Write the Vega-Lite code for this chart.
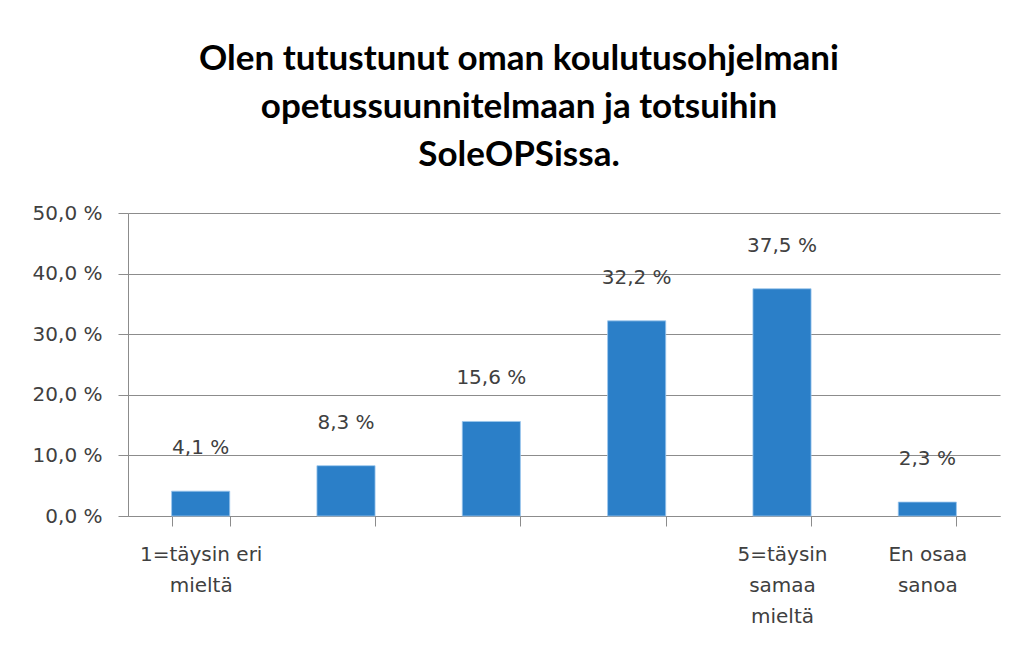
{
  "$schema": "https://vega.github.io/schema/vega-lite/v6.json",
  "width": 872,
  "height": 303,
  "autosize": "none",
  "padding": {"left": 128, "top": 213, "right": 22, "bottom": 132},
  "background": "white",
  "title": {
    "text": ["Olen tutustunut oman koulutusohjelmani", "opetussuunnitelmaan ja totsuihin", "SoleOPSissa."],
    "font": "Lato",
    "fontSize": 35,
    "fontWeight": "bold",
    "color": "#000000",
    "lineHeight": 48,
    "anchor": "middle",
    "dx": -45,
    "offset": 30
  },
  "data": {
    "values": [
      {"category": "1=täysin eri mieltä", "value": 4.1, "label": "4,1 %"},
      {"category": "2", "value": 8.3, "label": "8,3 %"},
      {"category": "3", "value": 15.6, "label": "15,6 %"},
      {"category": "4", "value": 32.2, "label": "32,2 %"},
      {"category": "5=täysin samaa mieltä", "value": 37.5, "label": "37,5 %"},
      {"category": "En osaa sanoa", "value": 2.3, "label": "2,3 %"}
    ]
  },
  "encoding": {
    "x": {
      "field": "category",
      "type": "nominal",
      "sort": null,
      "scale": {"paddingInner": 0.6, "paddingOuter": 0.3},
      "axis": {
        "title": null,
        "labelAngle": 0,
        "labelFont": "DejaVu Sans",
        "labelFontSize": 20,
        "labelColor": "#404040",
        "labelLineHeight": 31,
        "labelPadding": 18,
        "labelBaseline": "top",
        "tickBand": "extent",
        "tickSize": 10,
        "tickColor": "#8c8c8c",
        "domainColor": "#8c8c8c",
        "grid": false,
        "labelExpr": "datum.value == '1=täysin eri mieltä' ? ['1=täysin eri', 'mieltä'] : datum.value == '5=täysin samaa mieltä' ? ['5=täysin', 'samaa', 'mieltä'] : datum.value == 'En osaa sanoa' ? ['En osaa', 'sanoa'] : ''"
      }
    },
    "y": {
      "field": "value",
      "type": "quantitative",
      "scale": {"domain": [0, 50], "nice": false},
      "axis": {
        "title": null,
        "values": [0, 10, 20, 30, 40, 50],
        "labelExpr": "replace(format(datum.value, '.1f'), '.', ',') + ' %'",
        "labelFont": "DejaVu Sans",
        "labelFontSize": 20,
        "labelColor": "#404040",
        "labelPadding": 16,
        "tickSize": 10,
        "tickColor": "#8c8c8c",
        "domainColor": "#8c8c8c",
        "gridColor": "#8c8c8c",
        "gridWidth": 1.2,
        "grid": true
      }
    }
  },
  "layer": [
    {"mark": {"type": "bar", "color": "#2b7fc8", "stroke": "#9cc7ee", "strokeWidth": 0.8}},
    {
      "mark": {"type": "text", "font": "DejaVu Sans", "fontSize": 20, "color": "#404040", "baseline": "middle", "dy": -43},
      "encoding": {
        "text": {"field": "label", "type": "nominal"}
      }
    }
  ],
  "config": {
    "view": {"stroke": null}
  }
}
